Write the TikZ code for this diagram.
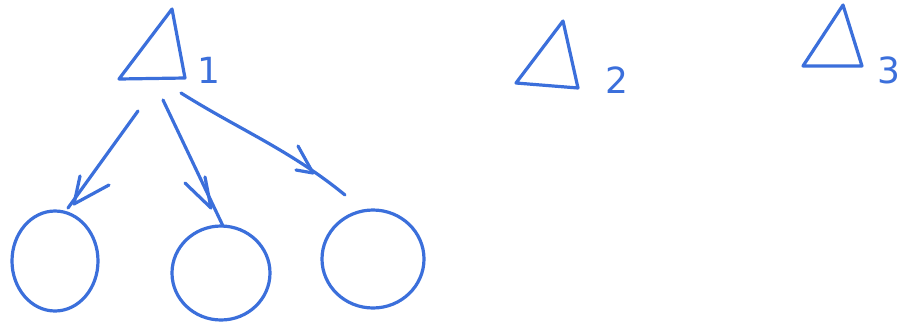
\documentclass[tikz,border=0pt]{standalone}
\usepackage{fontspec}
\setmainfont{DejaVu Sans}
\usetikzlibrary{shapes.geometric}
\definecolor{pen}{HTML}{3B6FDB}
\tikzset{
  ink/.style={draw=pen, line width=3.2pt, line cap=round, line join=round},
  blob/.style={ink, ellipse, inner sep=0pt},
  lbl/.style={text=pen, font=\fontsize{36}{36}\selectfont, inner sep=0pt},
}
\begin{document}
\begin{tikzpicture}[x=1pt, y=-1pt]
\useasboundingbox (0,0) rectangle (919,325);
% triangles
\coordinate (t1a) at (172,9); \coordinate (t1l) at (119,79); \coordinate (t1r) at (185,78);
\draw[ink] (t1l) -- (t1a) -- (t1r) -- cycle;
\node[lbl] (n1) at (209,70) {1};
\coordinate (t2a) at (563,21); \coordinate (t2l) at (516,83); \coordinate (t2r) at (578,88);
\draw[ink] (t2l) -- (t2a) -- (t2r) -- cycle;
\node[lbl] (n2) at (617,80) {2};
\coordinate (t3a) at (843,5); \coordinate (t3l) at (803,66); \coordinate (t3r) at (862,66);
\draw[ink] (t3l) -- (t3a) -- (t3r) -- cycle;
\node[lbl] (n3) at (889,70) {3};
% circles
\node[blob, minimum width=86pt, minimum height=100pt] (c1) at (55,261) {};
\node[blob, minimum width=98pt, minimum height=94pt] (c2) at (221,273) {};
\node[blob, minimum width=102pt, minimum height=98pt] (c3) at (373,259) {};
% arrows
\coordinate (s1) at (138,111); \coordinate (e1) at (68,208);
\draw[ink] (s1) -- (e1);
\coordinate (h1a) at (80,176); \coordinate (h1b) at (109,185); \coordinate (p1) at (74,204);
\draw[ink] (h1a) -- (p1) -- (h1b);
\coordinate (s2) at (163,100); \coordinate (e2) at (223,226);
\draw[ink] (s2) -- (e2);
\coordinate (h2a) at (185,183); \coordinate (h2b) at (205,177); \coordinate (p2) at (211,208);
\draw[ink] (h2a) -- (p2) -- (h2b);
\coordinate (s3) at (181,93); \coordinate (e3) at (345,195);
\draw[ink] (s3) .. controls (240,130) and (290,150) .. (e3);
\coordinate (h3a) at (298,146); \coordinate (h3b) at (296,170); \coordinate (p3) at (313,173);
\draw[ink] (h3a) -- (p3) -- (h3b);
\end{tikzpicture}
\end{document}
